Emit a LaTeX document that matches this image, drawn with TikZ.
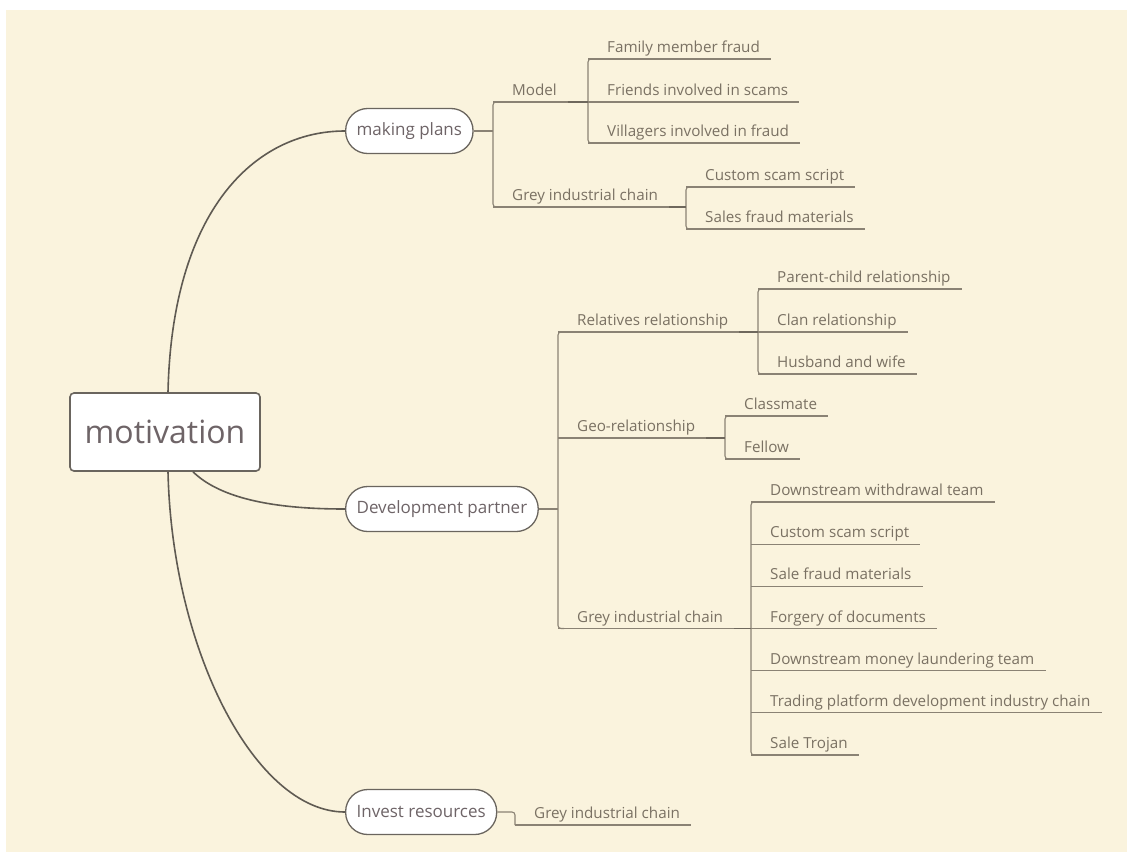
\documentclass[tikz,border=0pt]{standalone}
\usepackage{fontspec}
\setmainfont{Open Sans}
\usetikzlibrary{calc}
\definecolor{bgcol}{HTML}{FAF3DD}
\definecolor{linecol}{HTML}{8A8274}
\definecolor{jointcol}{HTML}{6E675C}
\definecolor{trunkcol}{HTML}{5F5A52}
\definecolor{nodeline}{HTML}{6A655E}
\definecolor{leaftext}{HTML}{7A7163}
\definecolor{topictext}{HTML}{6E6467}
\newcommand\leaffont{\fontsize{15.2}{18}\selectfont}
\newcommand\topicfont{\fontsize{17}{20}\selectfont}
\newcommand\mainfont{\fontsize{32}{38}\selectfont}
\tikzset{
  leaf/.style={anchor=base west, inner sep=0pt, font=\leaffont, text=leaftext},
  uline/.style={draw=linecol, line width=1.1pt},
  joint/.style={draw=jointcol, line width=1.8pt},
  trunk/.style={draw=trunkcol, line width=1.6pt},
  topic/.style={draw=nodeline, line width=1.3pt, fill=white, rounded corners=22pt,
    minimum height=45pt, inner xsep=11pt, font=\topicfont, text=topictext, anchor=west},
  mainbox/.style={draw=nodeline, line width=1.6pt, fill=white, rounded corners=4pt,
    minimum width=190pt, minimum height=78pt, font=\mainfont, text=topictext},
}
\newcommand\myleaf[4]{%
  \coordinate (#1-u) at (#2,#3);
  \node[leaf] (#1) at ([shift={(19,-6.5)}]#1-u) {#4};
  \path ([xshift=11pt]#1.east) coordinate (#1-e);
  \draw[uline] (#1-u) -- (#1-e |- #1-u);
}
\begin{document}
\begin{tikzpicture}[x=1pt,y=-1pt]
\useasboundingbox (0,0) rectangle (1127,852);
\fill[white] (0,0) rectangle (1127,852);
\fill[bgcol] (6,10) rectangle (1127,852);

% main and topics
\node[mainbox] (mot) at (165,432) {motivation};
\node[topic] (mp) at (345,131) {making plans};
\node[topic] (dp) at (345,509) {Development partner};
\node[topic] (ir) at (345,812) {Invest resources};

% trunk curves
\draw[trunk] ([xshift=3pt]mot.north) .. controls (172,210) and (255,131) .. (mp.west);
\draw[trunk] ([xshift=28pt]mot.south) .. controls (225,503) and (290,509) .. (dp.west);
\draw[trunk] ([xshift=3pt]mot.south) .. controls (172,650) and (255,812) .. (ir.west);

% ---- making plans branch
\draw[uline] (mp.east) -- (493,131);
\draw[uline, rounded corners=3pt] (499,102) -- (493,102) -- (493,207) -- (499,207);
\myleaf{model}{493}{102}{Model}
\myleaf{gica}{493}{207}{Grey industrial chain}

\draw[uline, rounded corners=3pt] (594,59) -- (588,59) -- (588,143) -- (594,143);
\draw[joint] (model-e |- model-u) -- (588,102);
\myleaf{fmf}{588}{59}{Family member fraud}
\myleaf{fis}{588}{102}{Friends involved in scams}
\myleaf{vif}{588}{143}{Villagers involved in fraud}

\draw[uline, rounded corners=3pt] (692,187) -- (686,187) -- (686,229) -- (692,229);
\draw[joint] (gica-e |- gica-u) -- (686,207);
\myleaf{cssa}{686}{187}{Custom scam script}
\myleaf{sfma}{686}{229}{Sales fraud materials}

% ---- development partner branch
\draw[uline] (dp.east) -- (558,509);
\draw[uline, rounded corners=3pt] (564,332) -- (558,332) -- (558,628.5) -- (564,628.5);
\myleaf{rr}{558}{332}{Relatives relationship}
\myleaf{geo}{558}{438}{Geo-relationship}
\myleaf{gicb}{558}{628.5}{Grey industrial chain}

\draw[uline, rounded corners=3pt] (764,289) -- (758,289) -- (758,374) -- (764,374);
\draw[joint] (rr-e |- rr-u) -- (758,332);
\myleaf{pc}{758}{289}{Parent-child relationship}
\myleaf{cr}{758}{332}{Clan relationship}
\myleaf{hw}{758}{374}{Husband and wife}

\draw[uline, rounded corners=3pt] (731,416) -- (725,416) -- (725,459) -- (731,459);
\draw[joint] (geo-e |- geo-u) -- (725,438);
\myleaf{cm}{725}{416}{Classmate}
\myleaf{fe}{725}{459}{Fellow}

\draw[uline, rounded corners=3pt] (757,502) -- (751,502) -- (751,755) -- (757,755);
\draw[joint] (gicb-e |- gicb-u) -- (751,628.5);
\myleaf{dwt}{751}{502}{Downstream withdrawal team}
\myleaf{cssb}{751}{544.2}{Custom scam script}
\myleaf{sfmb}{751}{586.3}{Sale fraud materials}
\myleaf{fod}{751}{628.5}{Forgery of documents}
\myleaf{dml}{751}{670.7}{Downstream money laundering team}
\myleaf{tpd}{751}{712.8}{Trading platform development industry chain}
\myleaf{st}{751}{755}{Sale Trojan}

% ---- invest resources branch
\myleaf{gicc}{515}{825}{Grey industrial chain}
\draw[uline, rounded corners=3pt] (ir.east) -| (gicc-u);
\end{tikzpicture}
\end{document}
